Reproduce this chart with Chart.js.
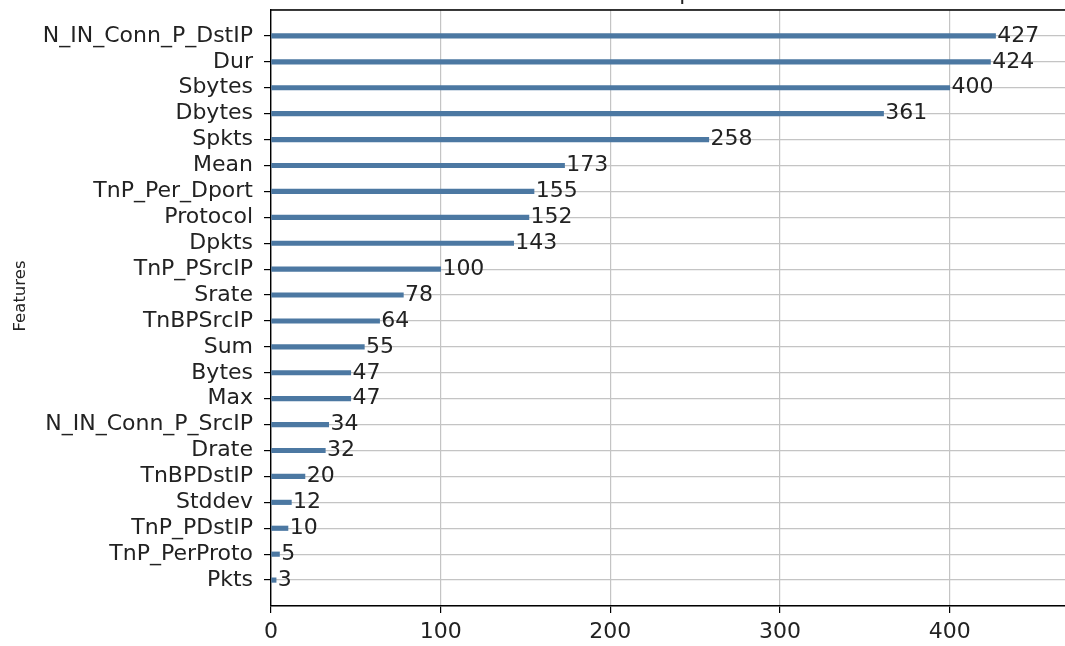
<!DOCTYPE html>
<html>
<head>
<meta charset="utf-8">
<script src="https://cdn.jsdelivr.net/npm/chart.js@4/dist/chart.umd.min.js"></script>
<style>
  html, body { margin: 0; padding: 0; background: #fff; overflow: hidden; }
  #wrap { position: absolute; left: 0; top: 0; width: 1080px; height: 646px; }
</style>
</head>
<body>
<div id="wrap"><canvas id="c"></canvas></div>
<script>
const features = ['N_IN_Conn_P_DstIP','Dur','Sbytes','Dbytes','Spkts','Mean','TnP_Per_Dport','Protocol','Dpkts','TnP_PSrcIP','Srate','TnBPSrcIP','Sum','Bytes','Max','N_IN_Conn_P_SrcIP','Drate','TnBPDstIP','Stddev','TnP_PDstIP','TnP_PerProto','Pkts'];
const scores = [427,424,400,361,258,173,155,152,143,100,78,64,55,47,47,34,32,20,12,10,5,3];
const xTicks = [0,100,200,300,400];
const titleText = 'Feature importance';
const yTitle = 'Features';

const FONT = 'DejaVu Sans';
const xMax = Math.max(...scores) * 1.1;

// pad one empty slot above and below (axis spans -1 .. n)
const labels = [''].concat(features, ['']);
const data = [null].concat(scores, [null]);

const extras = {
  id: 'extras',
  afterDraw(chart) {
    const ctx = chart.ctx, a = chart.chartArea;
    const xs = chart.scales.x, ys = chart.scales.y;
    ctx.save();
    // spines top/right
    ctx.strokeStyle = '#000'; ctx.lineWidth = 1.4;
    ctx.beginPath();
    ctx.moveTo(a.left, a.top); ctx.lineTo(a.right, a.top); ctx.lineTo(a.right, a.bottom);
    ctx.stroke();
    // value labels
    ctx.fillStyle = '#222';
    ctx.font = '22px "' + FONT + '"';
    ctx.textBaseline = 'middle'; ctx.textAlign = 'left';
    scores.forEach((v, i) => {
      ctx.fillText(String(v), xs.getPixelForValue(v + 1), ys.getPixelForValue(i + 1));
    });
    // title (mostly above the visible area)
    ctx.font = '22px "' + FONT + '"';
    ctx.textAlign = 'center'; ctx.textBaseline = 'alphabetic';
    ctx.fillText(titleText, (a.left + a.right) / 2, 0);
    // y title
    ctx.font = '16.5px "' + FONT + '"';
    ctx.translate(21, 296);
    ctx.rotate(-Math.PI / 2);
    ctx.textBaseline = 'middle';
    ctx.fillText(yTitle, 0, 0);
    ctx.restore();
  }
};

new Chart(document.getElementById('c'), {
  type: 'bar',
  data: {
    labels: labels,
    datasets: [{
      data: data,
      backgroundColor: '#4c78a2',
      barThickness: 4.5,
      borderWidth: 0
    }]
  },
  options: {
    indexAxis: 'y',
    responsive: true,
    maintainAspectRatio: false,
    animation: false,
    layout: { padding: { top: 10, right: 12, left: 0, bottom: 0 } },
    plugins: { legend: { display: false }, tooltip: { enabled: false }, title: { display: false } },
    scales: {
      x: {
        type: 'linear',
        min: 0, max: xMax,
        afterBuildTicks(s) { s.ticks = xTicks.map(v => ({ value: v })); },
        afterFit(s) { s.height = 40; s.paddingLeft = 0; s.paddingRight = 0; },
        ticks: { includeBounds: false, color: '#222', font: { family: FONT, size: 22 }, padding: 6, maxRotation: 0 },
        grid: { color: '#c4c4c4', lineWidth: 1.2, tickLength: 7, tickColor: '#000' },
        border: { color: '#000', width: 1.4 }
      },
      y: {
        type: 'category',
        offset: false,
        afterFit(s) { s.width = 271; s.paddingTop = 0; s.paddingBottom = 0; },
        ticks: { color: '#222', font: { family: FONT, size: 22 }, padding: 11, autoSkip: false },
        grid: {
          offset: false,
          color: '#c4c4c4', lineWidth: 1.2, tickLength: 7,
          tickColor: (c) => (c.index === 0 || c.index === labels.length - 1) ? 'rgba(0,0,0,0)' : '#000'
        },
        border: { color: '#000', width: 1.4 }
      }
    }
  },
  plugins: [extras]
});
</script>
</body>
</html>
